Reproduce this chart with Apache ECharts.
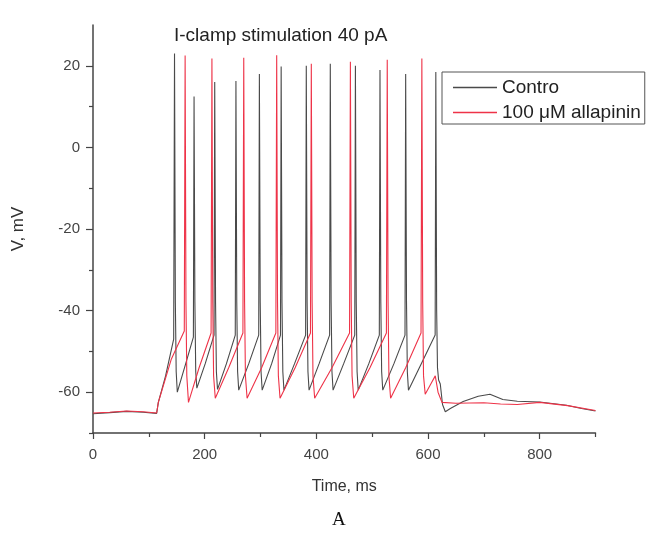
<!DOCTYPE html>
<html>
<head>
<meta charset="utf-8">
<script src="https://cdn.jsdelivr.net/npm/echarts@6/dist/echarts.min.js"></script>
<style>
html,body{margin:0;padding:0;background:#fff;}
#chart{width:653px;height:533px;}
</style>
</head>
<body>
<div id="chart"></div>
<script>
// ---- Data (time ms, voltage mV) ----
var controlName = 'Contro';
var allapName = '100 \u03bcM allapinin';

var controlData = [
  [0,-65.3],[30,-65],[60,-64.7],[90,-64.9],[114,-65.2],
  [117,-62.5],[130,-56],[144.5,-47],
  [146,23],[147.5,-38],[149,-55],[151,-60],[165,-53.5],[179.8,-46.5],
  [181,12.5],[182.5,-38],[184,-55],[186,-59],[201,-53],[216.8,-46],
  [218,16],[219.5,-38],[221,-55],[223,-59.3],[239,-53],[254.8,-46],
  [256,16.3],[257.5,-38],[259,-55],[261,-59.5],[279,-53],[296.8,-46],
  [298,18],[299.5,-38],[301,-55],[303,-59.5],[320,-53],[335.8,-46],
  [337,19.8],[338.5,-38],[340,-55],[342,-59.5],[361,-53],[380.8,-46],
  [382,20],[383.5,-38],[385,-55],[387,-59.5],[405,-53],[423.8,-46],
  [425,20.5],[426.5,-38],[428,-55],[430,-59.5],[449,-53],[468.8,-46],
  [470,20],[471.5,-38],[473,-55],[475,-59.5],[494,-53],[512.8,-46],
  [514,19],[515.5,-38],[517,-55],[519,-59.5],[539,-53],[558.8,-46],
  [560,18],[561.5,-38],[563,-55],[565,-59.5],[588,-53],[612.8,-46],
  [614,18.5],[615.5,-40],[617,-54],[619,-57],[622,-58],[626,-63],[631,-64.8],
  [640,-64],[663,-62.3],[690,-61],[711,-60.5],[734,-61.8],[760,-62.2],
  [800,-62.4],[848,-63.2],[875,-64],[900,-64.6]
];

var allapData = [
  [0,-65.1],[30,-64.9],[60,-64.6],[90,-64.8],[114,-65.1],
  [117,-62.5],[140,-52],[163.5,-45],
  [165,22.5],[166.5,-38],[168,-56],[171,-62.5],[190,-54],[211.5,-45.5],
  [213,21.8],[214.5,-38],[216,-56],[219,-61.5],[243,-54],[268.5,-45.5],
  [270,22],[271.5,-38],[273,-56],[276,-61.5],[302,-54],[327.5,-45.5],
  [329,22.6],[330.5,-38],[332,-56],[335,-61.5],[362,-54],[389.5,-45.5],
  [391,20.5],[392.5,-38],[394,-56],[397,-61.5],[428,-54],[459.5,-45.5],
  [461,21],[462.5,-38],[464,-56],[467,-61.5],[496,-54],[525.5,-45.5],
  [527,21.5],[528.5,-38],[530,-56],[533,-61.5],[560,-54],[587.5,-45.5],
  [589,21.8],[590.5,-38],[592,-56],[595,-60.5],[605,-58],[613,-56],
  [618,-60],[625,-62.5],[650,-62.7],[700,-62.6],[730,-62.9],[760,-63],
  [800,-62.5],[850,-63.3],[900,-64.5]
];

var xMajorTicks = [0,200,400,600,800];
var xMinorTicks = [100,300,500,700,900];
var yMajorTicks = [-60,-40,-20,0,20];
var yMinorTicks = [-70,-50,-30,-10,10];

var FONT = '"Liberation Sans", Arial, sans-serif';
var axisColor = '#444';

var chart = echarts.init(document.getElementById('chart'), null, {renderer:'canvas'});
chart.setOption({
  animation: false,
  backgroundColor: '#fff',
  title: {
    text: 'I-clamp stimulation 40 pA',
    left: 174, top: 26, padding: 0,
    textStyle: {fontFamily: FONT, fontSize: 19, fontWeight: 'normal', color: '#222'}
  },
  legend: {
    orient: 'vertical',
    left: 442, top: 72,
    padding: [6, 4, 2, 11],
    icon: 'rect',
    itemWidth: 44, itemHeight: 1.3, itemGap: 6,
    borderColor: '#555', borderWidth: 1,
    textStyle: {fontFamily: FONT, fontSize: 19, color: '#222', lineHeight: 19},
    data: [controlName, allapName]
  },
  grid: {left: 93, right: 57.5, top: 25, bottom: 100, containLabel: false},
  xAxis: [{
    type: 'value', min: 0, max: 900, interval: 100,
    name: 'Time, ms', nameLocation: 'middle', nameGap: 46,
    nameTextStyle: {fontFamily: FONT, fontSize: 16, color: '#333'},
    axisLine: {show: true, onZero: false, lineStyle: {color: axisColor, width: 1.5}},
    axisTick: {show: true, customValues: xMajorTicks, length: 6, lineStyle: {color: axisColor, width: 1.2}},
    axisLabel: {customValues: xMajorTicks, margin: 14, fontFamily: FONT, fontSize: 15, color: '#444'},
    splitLine: {show: false}
  }, {
    type: 'value', min: 0, max: 900, position: 'bottom',
    axisLine: {show: false, onZero: false},
    axisTick: {show: true, customValues: xMinorTicks, length: 4, lineStyle: {color: axisColor, width: 1.2}},
    axisLabel: {show: false},
    splitLine: {show: false}
  }],
  yAxis: [{
    type: 'value', min: -70, max: 30, interval: 10,
    name: 'V, mV', nameLocation: 'middle', nameGap: 66, nameRotate: 90,
    nameTextStyle: {fontFamily: FONT, fontSize: 17, color: '#333'},
    axisLine: {show: true, onZero: false, lineStyle: {color: axisColor, width: 1.5}},
    axisTick: {show: true, customValues: yMajorTicks, length: 7, lineStyle: {color: axisColor, width: 1.2}},
    axisLabel: {customValues: yMajorTicks, margin: 13, fontFamily: FONT, fontSize: 15, color: '#444'},
    splitLine: {show: false}
  }, {
    type: 'value', min: -70, max: 30, position: 'left',
    axisLine: {show: false, onZero: false},
    axisTick: {show: true, customValues: yMinorTicks, length: 4, lineStyle: {color: axisColor, width: 1.2}},
    axisLabel: {show: false},
    splitLine: {show: false}
  }],
  series: [{
    name: controlName, type: 'line', data: controlData,
    xAxisIndex: 0, yAxisIndex: 0,
    symbol: 'none', showSymbol: false, smooth: false,
    lineStyle: {color: '#4a4a4a', width: 1.1},
    itemStyle: {color: '#4a4a4a'}
  }, {
    name: allapName, type: 'line', data: allapData,
    xAxisIndex: 0, yAxisIndex: 0,
    symbol: 'none', showSymbol: false, smooth: false,
    lineStyle: {color: '#ee3348', width: 1.1},
    itemStyle: {color: '#ee3348'}
  }],
  graphic: [{
    type: 'text', left: 332, top: 511,
    style: {text: 'A', font: '19px "Liberation Serif", "Times New Roman", serif', fill: '#111'}
  }]
});
</script>
</body>
</html>
